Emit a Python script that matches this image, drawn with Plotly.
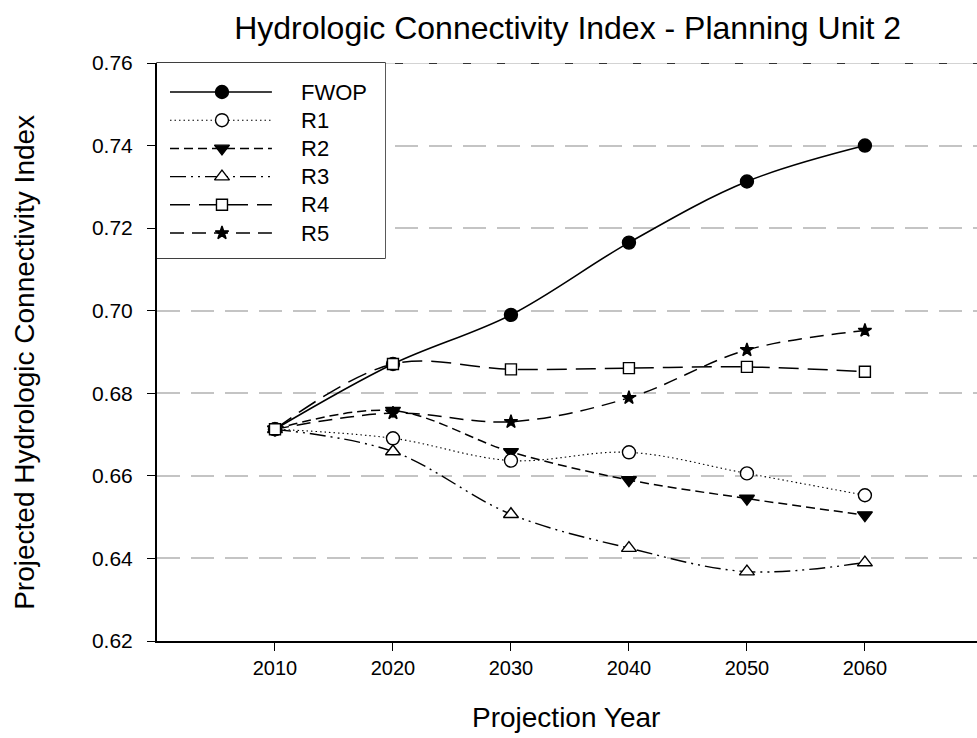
import plotly.graph_objects as go

# Projection years and index values per scenario
years = [2010, 2020, 2030, 2040, 2050, 2060]
fwop = [0.6713, 0.6871, 0.6990, 0.7165, 0.7313, 0.7400]
r1 = [0.6713, 0.6691, 0.6637, 0.6657, 0.6606, 0.6553]
r2 = [0.6713, 0.6758, 0.6658, 0.6590, 0.6545, 0.6505]
r3 = [0.6713, 0.6659, 0.6507, 0.6425, 0.6368, 0.6390]
r4 = [0.6713, 0.6871, 0.6858, 0.6861, 0.6864, 0.6852]
r5 = [0.6713, 0.6752, 0.6731, 0.6789, 0.6905, 0.6952]

series_names = ["FWOP", "R1", "R2", "R3", "R4", "R5"]
series_values = [fwop, r1, r2, r3, r4, r5]
y_ticks = [0.62, 0.64, 0.66, 0.68, 0.70, 0.72, 0.74, 0.76]

FONT = "Liberation Sans, Arial, sans-serif"

styles = {
    "FWOP": dict(dash="solid", width=1.6, symbol="circle", size=13, fill="black"),
    "R1": dict(dash="1.5px,3px", width=1.1, symbol="circle", size=13, fill="white"),
    "R2": dict(dash="9px,5px", width=1.5, symbol="triangle-down", size=13, fill="black"),
    "R3": dict(dash="16px,5px,2px,5px,2px,5px", width=1.4, symbol="triangle-up", size=13, fill="white"),
    "R4": dict(dash="20px,9px", width=1.5, symbol="square", size=11, fill="white"),
    "R5": dict(dash="14px,8px", width=1.5, symbol="star", size=10, fill="black"),
}

fig = go.Figure()

# draw so the filled FWOP line sits under the open markers
order = ["FWOP", "R5", "R2", "R1", "R3", "R4"]
for name in order:
    st = styles[name]
    vals = series_values[series_names.index(name)]
    fig.add_trace(go.Scatter(
        x=years, y=vals, name=name, mode="lines+markers",
        line=dict(color="black", width=st["width"], dash=st["dash"], shape="spline", smoothing=1),
        marker=dict(symbol=st["symbol"], size=st["size"], color=st["fill"],
                    line=dict(color="black", width=1.4)),
        showlegend=False,
    ))

# custom legend drawn in a small auxiliary subplot inside the box
row_top = (92 - 63) / 195.0
row_step = 28.2 / 195.0
x_start, x_mid, x_end, x_text = 0.057, 0.285, 0.504, 0.623
for i, name in enumerate(series_names):
    st = styles[name]
    yy = 1 - (row_top + i * row_step)
    fig.add_trace(go.Scatter(
        x=[x_start, x_end], y=[yy, yy], mode="lines",
        line=dict(color="black", width=st["width"], dash=st["dash"]),
        xaxis="x2", yaxis="y2", showlegend=False, hoverinfo="skip",
    ))
    fig.add_trace(go.Scatter(
        x=[x_mid], y=[yy], mode="markers",
        marker=dict(symbol=st["symbol"], size=st["size"], color=st["fill"],
                    line=dict(color="black", width=1.4)),
        xaxis="x2", yaxis="y2", showlegend=False, hoverinfo="skip",
    ))
    fig.add_annotation(x=x_text, y=yy, xref="x2", yref="y2", text=name,
                       showarrow=False, xanchor="left", yanchor="middle",
                       font=dict(family=FONT, size=22, color="black"))

legend_w = (385 - 157) / 820.0
legend_h0 = (641 - 258) / 578.0

# top grid line: light solid line with short dark dashes
fig.add_shape(type="line", xref="paper", yref="y", x0=0, x1=1, y0=0.76, y1=0.76,
              line=dict(color="#c4c4c4", width=1.5), layer="between")
fig.add_shape(type="line", xref="paper", yref="y", x0=0, x1=1, y0=0.76, y1=0.76,
              line=dict(color="black", width=1.5, dash="8px,26px"), layer="between")
# legend box
fig.add_shape(type="rect", xref="paper", yref="paper", x0=0, x1=legend_w, y0=legend_h0, y1=1,
              line=dict(color="black", width=1.3), fillcolor="white", layer="between")

fig.update_layout(
    width=977, height=738,
    margin=dict(l=157, r=0, t=63, b=97),
    paper_bgcolor="white", plot_bgcolor="white",
    font=dict(family=FONT, color="black"),
    title=dict(text="Hydrologic Connectivity Index - Planning Unit 2",
               x=0.581, xanchor="center", y=0.962, yanchor="middle", yref="container",
               font=dict(family=FONT, size=32, color="black")),
    xaxis=dict(range=[2000, 2069.5], tickvals=years, ticktext=[str(y) for y in years],
               showline=True, linecolor="black", linewidth=2, mirror=False,
               ticks="outside", ticklen=8, tickwidth=1.2, tickcolor="black",
               showgrid=False, zeroline=False, ticklabelstandoff=0,
               tickfont=dict(family=FONT, size=20, color="black")),
    yaxis=dict(range=[0.62, 0.76], tickvals=y_ticks, tickformat=".2f",
               showline=True, linecolor="black", linewidth=2, mirror=False,
               ticks="outside", ticklen=8, tickwidth=1.2, tickcolor="black",
               showgrid=True, gridcolor="#c4c4c4", gridwidth=1.5, griddash="23px,11px",
               zeroline=False, ticklabelstandoff=10,
               tickfont=dict(family=FONT, size=21, color="black")),
    xaxis2=dict(domain=[0, legend_w], range=[0, 1], anchor="y2", visible=False, fixedrange=True),
    yaxis2=dict(domain=[legend_h0, 1], range=[0, 1], anchor="x2", visible=False, fixedrange=True),
)

# axis titles
fig.add_annotation(text="Projection Year", xref="paper", yref="paper", x=0.499, y=-0.133,
                   showarrow=False, xanchor="center", yanchor="middle",
                   font=dict(family=FONT, size=28, color="black"))
fig.add_annotation(text="Projected Hydrologic Connectivity Index", xref="paper", yref="paper",
                   x=-0.161, y=0.483, textangle=-90, showarrow=False,
                   xanchor="center", yanchor="middle",
                   font=dict(family=FONT, size=28, color="black"))

fig.write_html("out.html")
